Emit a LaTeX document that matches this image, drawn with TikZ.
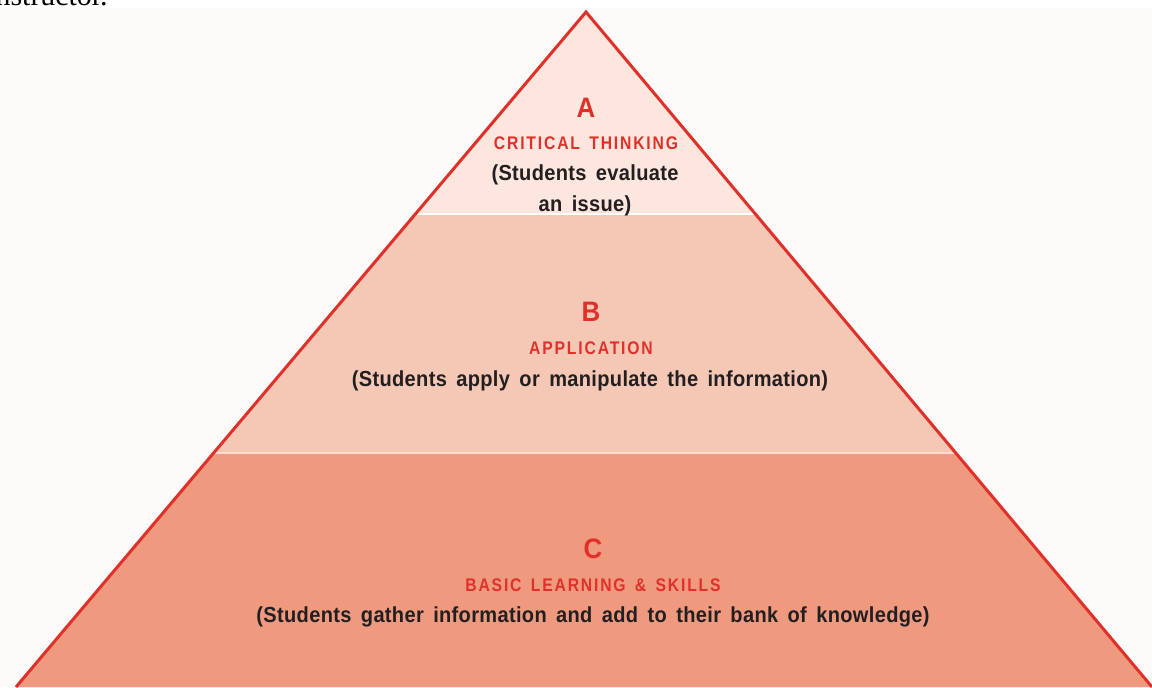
\documentclass[tikz,border=0pt]{standalone}
\usepackage{fontspec}
\usepackage{xcolor}
\usepackage{tikz}
\usetikzlibrary{positioning, calc}
\newfontfamily\tierfont{Liberation Sans}[FakeStretch=0.92, WordSpace=1.6, LetterSpace=1.5]
\newfontfamily\tierspaced{Liberation Sans}[FakeStretch=0.86, LetterSpace=10, WordSpace=1.5]
\newfontfamily\pagefont{Liberation Serif}
\definecolor{pyrred}{HTML}{E0302A}
\definecolor{tierA}{HTML}{FCE6DD}
\definecolor{tierB}{HTML}{F5C8B5}
\definecolor{tierC}{HTML}{EF9A7E}
\definecolor{tiersep}{HTML}{F9DCCF}
\definecolor{inktext}{HTML}{231F20}
\definecolor{paper}{HTML}{FDFBFA}
\tikzstyle{tierletter} = [text=pyrred, inner sep=0pt, font=\tierfont\bfseries\fontsize{16}{18}\selectfont]
\tikzstyle{tiertitle} = [text=pyrred, inner sep=0pt, font=\tierspaced\bfseries\fontsize{10.4}{12}\selectfont]
\tikzstyle{tiertext} = [text=inktext, inner sep=0pt, align=center, font=\tierfont\bfseries\fontsize{12.4}{17.6}\selectfont]
\tikzstyle{outline} = [draw=pyrred, line width=0.06cm, line join=miter]

\begin{document}
\begin{tikzpicture}[x=0.02cm, y=-0.02cm]
        \useasboundingbox (0,0) rectangle (1152,687);
        \fill[paper] (0,8) rectangle (1152,687);
        % text cut off above the figure
        \node (prevline) [anchor=base east, inner sep=0pt, font=\pagefont\fontsize{17}{20}\selectfont] at (108,5) {instructor.};
        % Pyramid
        \coordinate (apex) at (586,12);
        \coordinate (baseL) at (16,687);
        \coordinate (baseR) at (1152,687);
        \begin{scope}
            \clip (apex) -- (baseL) -- (baseR) -- cycle;
            \fill[tierA] (0,0) rectangle (1152,214);
            \fill[tierB] (0,214) rectangle (1152,453);
            \fill[tierC] (0,453) rectangle (1152,700);
            \draw[white, line width=0.04cm] (0,214) -- (1152,214);
            \draw[tiersep, line width=0.04cm] (0,453) -- (1152,453);
        \end{scope}
        \draw[outline] (baseL) -- (apex) -- (baseR);
        % Nodes
        \node (letterA) [tierletter] at (586,108) {A};
        \node (titleA) [tiertitle] at (586,143) {CRITICAL THINKING};
        \node (textA) [tiertext] at (585,190) {(Students evaluate\\an issue)};
        \node (letterB) [tierletter] at (591,312) {B};
        \node (titleB) [tiertitle] at (591,348) {APPLICATION};
        \node (textB) [tiertext] at (590,381) {(Students apply or manipulate the information)};
        \node (letterC) [tierletter] at (593,549) {C};
        \node (titleC) [tiertitle] at (593,585) {BASIC LEARNING \& SKILLS};
        \node (textC) [tiertext] at (593,617) {(Students gather information and add to their bank of knowledge)};
    \end{tikzpicture}
\end{document}
